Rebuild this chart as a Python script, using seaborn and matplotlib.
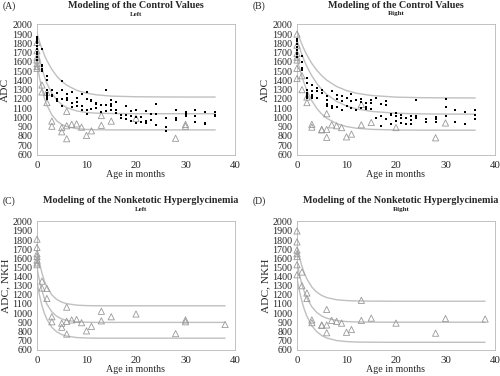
import numpy as np
import pandas as pd
import matplotlib
matplotlib.use("Agg")
import matplotlib.pyplot as plt
from matplotlib import ticker
import seaborn as sns

sns.set_theme(style="white")
plt.rcParams['font.family'] = ['Liberation Serif', 'DejaVu Serif']

# ---------- datos de controles (puntos negros) ----------
ctrl_left_age = ([0]*10 + [1]*5 + [2]*7 + [3]*3 + [4]*3 + [5]*4 + [6]*3 + [7]*3 + [8]*3 + [9]*3
                 + [10]*4 + [11]*3 + [12]*3 + [13]*2 + [14]*3 + [15]*4 + [16]*3 + [17]*2 + [18]*3
                 + [19]*3 + [20]*3 + [21]*2 + [22]*3 + [23]*2 + [24]*3 + [26]*3 + [28]*3 + [30]*3
                 + [32]*3 + [34]*3 + [36]*3)
ctrl_left_adc = [1870, 1850, 1820, 1800, 1770, 1740, 1710, 1680, 1650, 1620,
                 1740, 1570, 1550, 1520, 1500,
                 1450, 1400, 1300, 1260, 1240, 1220, 1200,
                 1295, 1245, 1230,
                 1260, 1200, 1180,
                 1390, 1295, 1200, 1120,
                 1255, 1210, 1190,
                 1270, 1155, 1110,
                 1210, 1165, 1120,
                 1255, 1120, 1080,
                 1270, 1200, 1085, 1040,
                 1190, 1175, 1095,
                 1160, 1140, 1105,
                 1135, 1060,
                 1295, 1135, 1070,
                 1185, 1150, 1120, 1075,
                 1165, 1085, 1050,
                 1030, 990,
                 1120, 1030, 980,
                 1065, 1010, 960,
                 1085, 1005, 945,
                 1000, 955,
                 1065, 960, 945,
                 1040, 970,
                 1150, 1040, 915,
                 995, 895, 850,
                 1085, 995, 970,
                 1060, 1040, 1020,
                 1075, 1010, 950,
                 1055, 945, 925,
                 1060, 1030, 1010]

ctrl_right_age = ([0]*8 + [1]*4 + [2]*7 + [3]*5 + [4]*3 + [5]*2 + [6]*4 + [7]*3 + [8]*3 + [9]*3
                  + [10]*2 + [11]*3 + [12]*2 + [13]*3 + [14]*3 + [15]*3 + [16]*2 + [17]*3 + [18]*3
                  + [19]*3 + [20]*3 + [21]*3 + [22]*2 + [23]*3 + [24]*3 + [26]*2 + [28]*3 + [30]*3
                  + [32]*2 + [34]*2 + [36]*3)
ctrl_right_adc = [1850, 1820, 1790, 1760, 1730, 1700, 1680, 1650,
                  1660, 1600, 1530, 1510,
                  1425, 1370, 1300, 1265, 1245, 1230, 1210,
                  1345, 1280, 1245, 1230, 1210,
                  1320, 1280, 1210,
                  1295, 1265,
                  1230, 1190, 1140, 1120,
                  1280, 1120, 1105,
                  1245, 1200, 1110,
                  1230, 1175, 1085,
                  1210, 1120,
                  1255, 1175, 1105,
                  1190, 1075,
                  1200, 1165, 1105,
                  1155, 1115, 1095,
                  1190, 1155, 1095,
                  1210, 995,
                  1150, 1020, 905,
                  1175, 1135, 980,
                  1040, 1030, 925,
                  1050, 1010, 965,
                  1030, 995, 945,
                  990, 925,
                  1020, 970, 930,
                  1190, 1010, 995,
                  980, 950,
                  1000, 980, 950,
                  1200, 1115, 1010,
                  1085, 950,
                  1055, 925,
                  1085, 1030, 985]

# ---------- datos NKH (triangulos) ----------
nkh_left_age = [0, 0, 0, 0, 0, 0, 0, 1, 1, 2, 2, 3, 3, 5, 5, 6, 6, 6, 7, 8, 9, 10, 11, 13, 13, 15, 20, 28, 30, 30, 38]
nkh_left_adc = [1810, 1720, 1650, 1620, 1580, 1550, 1530, 1350, 1275, 1270, 1160, 960, 905, 890, 845,
                1065, 910, 770, 925, 930, 895, 805, 855, 1020, 915, 960, 990, 775, 925, 905, 875]

nkh_right_age = [0, 0, 0, 0, 0, 0, 0, 1, 1, 2, 2, 3, 3, 5, 5, 6, 6, 6, 7, 8, 9, 10, 11, 13, 13, 15, 20, 28, 30, 38]
nkh_right_adc = [1900, 1780, 1690, 1650, 1620, 1530, 1420, 1450, 1300, 1220, 1160, 925, 895, 870, 865,
                 1040, 870, 785, 920, 910, 890, 790, 820, 1140, 920, 945, 890, 780, 940, 935]

# ---------- curvas del modelo ----------
curve_age_ctrl = [0, 0.5, 1, 1.5, 2, 3, 4, 5, 6, 8, 10, 12, 15, 20, 25, 30, 36]
ctrl_left_up = [1910, 1820, 1742, 1673, 1614, 1518, 1445, 1390, 1348, 1293, 1262, 1244, 1230, 1223, 1221, 1220, 1220]
ctrl_left_mid = [1770, 1638, 1529, 1441, 1368, 1260, 1187, 1139, 1106, 1070, 1053, 1046, 1042, 1040, 1040, 1040, 1040]
ctrl_left_low = [1590, 1430, 1305, 1207, 1132, 1027, 963, 924, 901, 878, 870, 867, 865, 865, 865, 865, 865]
ctrl_right_up = [1930, 1855, 1788, 1728, 1674, 1582, 1509, 1450, 1402, 1334, 1290, 1261, 1237, 1219, 1213, 1211, 1210]
ctrl_right_mid = [1835, 1752, 1677, 1610, 1550, 1449, 1367, 1301, 1249, 1173, 1124, 1092, 1065, 1045, 1038, 1036, 1035]
ctrl_right_low = [1642, 1534, 1440, 1360, 1290, 1179, 1097, 1036, 991, 933, 901, 883, 871, 864, 862, 862, 862]

curve_age_nkh = [0, 0.5, 1, 1.5, 2, 3, 4, 5, 6, 8, 10, 12, 15, 20, 25, 30, 38]
nkh_left_up = [1700, 1551, 1438, 1352, 1286, 1199, 1149, 1120, 1103, 1087, 1082, 1080, 1080, 1080, 1080, 1080, 1080]
nkh_left_mid = [1498, 1354, 1244, 1161, 1098, 1013, 965, 936, 920, 905, 900, 898, 898, 898, 898, 898, 898]
nkh_left_low = [1345, 1196, 1083, 997, 931, 844, 794, 765, 748, 732, 727, 725, 725, 725, 725, 725, 725]
nkh_right_up = [1730, 1609, 1513, 1435, 1374, 1285, 1229, 1193, 1170, 1146, 1137, 1133, 1131, 1130, 1130, 1130, 1130]
nkh_right_mid = [1550, 1419, 1315, 1231, 1165, 1068, 1007, 968, 944, 918, 907, 903, 901, 900, 900, 900, 900]
nkh_right_low = [1380, 1239, 1127, 1036, 965, 861, 796, 754, 727, 699, 688, 683, 681, 680, 680, 680, 680]

y_ticks = list(range(600, 2001, 100))
x_ticks = [0, 10, 20, 30, 40]

gris_curva = '#c0c0c0'
gris_tri = '#999999'
gris_marco = '#b8b8b8'

fig = plt.figure(figsize=(5, 3.76), dpi=100)
pos = {'A': [0.074, 0.588, 0.396, 0.348], 'B': [0.594, 0.588, 0.396, 0.348],
       'C': [0.074, 0.069, 0.396, 0.343], 'D': [0.594, 0.069, 0.396, 0.343]}


def dibujar(ax, curvas, curve_age, ctrl=None, nkh=None, ylabel='ADC', max_nkh=40):
    for c in curvas:
        sns.lineplot(x=curve_age, y=c, ax=ax, color=gris_curva, lw=1.0, estimator=None, sort=False)
    if nkh is not None:
        df = pd.DataFrame({'age': nkh[0], 'adc': nkh[1]})
        df = df[df['age'] <= max_nkh]
        sns.scatterplot(data=df, x='age', y='adc', ax=ax, marker='^', s=20,
                        facecolor='none', edgecolor=gris_tri, linewidth=0.6, clip_on=False, zorder=3)
    if ctrl is not None:
        sns.scatterplot(x=ctrl[0], y=ctrl[1], ax=ax, marker='s', s=4, color='black',
                        linewidth=0, zorder=4, clip_on=False)
    ax.set_xlim(0, 40)
    ax.set_ylim(595, 2008)
    ax.set_yticks(y_ticks)
    ax.set_xticks(x_ticks)
    ax.xaxis.set_minor_locator(ticker.MultipleLocator(2))
    ax.tick_params(axis='both', which='major', labelsize=7.2, length=2.5, width=0.5,
                   color=gris_marco, pad=1, direction='out')
    ax.tick_params(axis='x', which='minor', length=1.5, width=0.4, color=gris_marco, direction='out')
    ax.tick_params(axis='x', labelsize=7.8, pad=2)
    for s in ax.spines.values():
        s.set_color(gris_marco)
        s.set_linewidth(0.6)
    ax.set_xlabel('Age in months', fontsize=7.2, labelpad=0)
    ax.set_ylabel(ylabel, fontsize=8.2)
    ax.yaxis.set_label_coords(-0.135, 0.5)


axA = fig.add_axes(pos['A'])
dibujar(axA, [ctrl_left_up, ctrl_left_mid, ctrl_left_low], curve_age_ctrl,
        ctrl=(ctrl_left_age, ctrl_left_adc), nkh=(nkh_left_age, nkh_left_adc), max_nkh=36)
axB = fig.add_axes(pos['B'])
dibujar(axB, [ctrl_right_up, ctrl_right_mid, ctrl_right_low], curve_age_ctrl,
        ctrl=(ctrl_right_age, ctrl_right_adc), nkh=(nkh_right_age, nkh_right_adc), max_nkh=36)
axC = fig.add_axes(pos['C'])
dibujar(axC, [nkh_left_up, nkh_left_mid, nkh_left_low], curve_age_nkh,
        nkh=(nkh_left_age, nkh_left_adc), ylabel='ADC, NKH')
axD = fig.add_axes(pos['D'])
dibujar(axD, [nkh_right_up, nkh_right_mid, nkh_right_low], curve_age_nkh,
        nkh=(nkh_right_age, nkh_right_adc), ylabel='ADC, NKH')

# titulos
def px(x, y):
    return x / 500, 1 - y / 376

titulos = [('(A)', 'Modeling of the Control Values', 'Left', 3, 136, 6, 14),
           ('(B)', 'Modeling of the Control Values', 'Right', 253, 396, 6, 14),
           ('(C)', 'Modeling of the Nonketotic Hyperglycinemia', 'Left', 3, 141, 201, 210),
           ('(D)', 'Modeling of the Nonketotic Hyperglycinemia', 'Right', 253, 401, 201, 210)]
for lab, tit, sub, xl, xc, yt, ys in titulos:
    fig.text(*px(xl, yt), lab, fontsize=7, ha='left', va='center')
    fig.text(*px(xc, yt), tit, fontsize=7.3, fontweight='bold', ha='center', va='center')
    fig.text(*px(xc, ys), sub, fontsize=5, fontweight='bold', ha='center', va='center')

plt.savefig('out.png', dpi=100)
